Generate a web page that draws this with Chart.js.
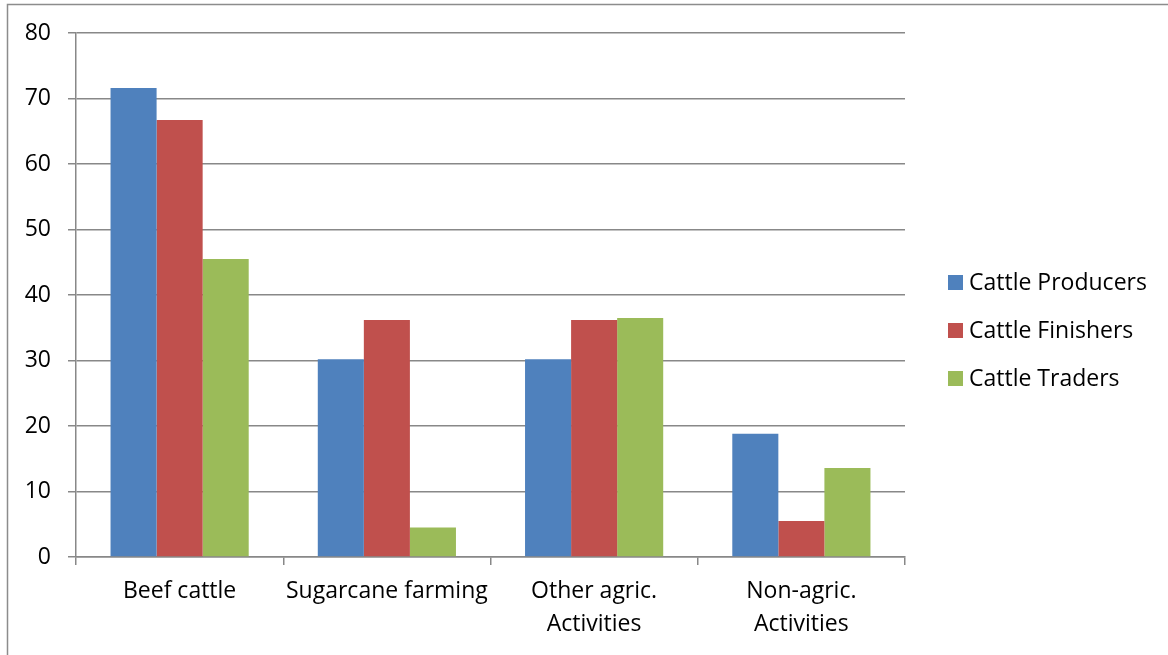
<!DOCTYPE html>
<html>
<head>
<meta charset="utf-8">
<title>Cattle sector activities</title>
<script src="https://cdn.jsdelivr.net/npm/chart.js@4.4.1/dist/chart.umd.min.js"></script>
<style>
  html, body { margin: 0; padding: 0; background: #fff; }
  #wrap { position: relative; width: 1168px; height: 655px; }
</style>
</head>
<body>
<div id="wrap"><canvas id="chart" width="1168" height="655"></canvas></div>
<script>
// Activity categories (x axis)
const categories = [
  'Beef cattle',
  'Sugarcane farming',
  ['Other agric.', 'Activities'],
  ['Non-agric.', 'Activities']
];

// Share of each group engaged in the activity
const producers = [71.6, 30.2, 30.2, 18.8];
const finishers = [66.7, 36.2, 36.2, 5.5];
const traders   = [45.5, 4.5, 36.5, 13.6];

const seriesNames = ['Cattle Producers', 'Cattle Finishers', 'Cattle Traders'];
const seriesColors = ['#4F81BD', '#C0504D', '#9BBB59'];

// Y axis range and step
const yMin = 0, yMax = 80, yStep = 10;

const FONT = '"Open Sans", "Liberation Sans", sans-serif';
const GRID = '#888888';

// Outer frame lines and a right-hand legend
const framePlugin = {
  id: 'frame',
  beforeDraw(chart) {
    const ctx = chart.ctx;
    ctx.save();
    ctx.strokeStyle = '#8c8c8c';
    ctx.lineWidth = 1.5;
    ctx.beginPath();
    ctx.moveTo(7.5, 655);
    ctx.lineTo(7.5, 4.5);
    ctx.lineTo(1168, 4.5);
    ctx.stroke();
    ctx.restore();
  },
  afterDraw(chart) {
    const ctx = chart.ctx;
    const ys = [282, 330, 378];
    ctx.save();
    ctx.font = '23px ' + FONT;
    ctx.textBaseline = 'middle';
    ctx.textAlign = 'left';
    chart.data.datasets.forEach((ds, i) => {
      ctx.fillStyle = ds.backgroundColor;
      ctx.fillRect(948, ys[i] - 7, 15, 15);
      ctx.fillStyle = '#000';
      ctx.fillText(ds.label, 969, ys[i] + 1);
    });
    ctx.restore();
  }
};

new Chart(document.getElementById('chart'), {
  type: 'bar',
  data: {
    labels: categories,
    datasets: [producers, finishers, traders].map((vals, i) => ({
      label: seriesNames[i],
      data: vals,
      backgroundColor: seriesColors[i],
      borderWidth: 0,
      barPercentage: 1.0,
      categoryPercentage: 3 / 4.5
    }))
  },
  options: {
    responsive: false,
    animation: false,
    layout: { padding: { left: 0, top: 33, right: 263, bottom: 0 } },
    plugins: {
      legend: { display: false },
      tooltip: { enabled: false }
    },
    scales: {
      x: {
        grid: {
          offset: true,
          drawOnChartArea: false,
          drawTicks: true,
          tickLength: 8,
          color: GRID,
          lineWidth: 1.5
        },
        border: { color: GRID, width: 1.5 },
        ticks: {
          color: '#000',
          font: { family: FONT, size: 23, lineHeight: 1.43 },
          padding: 10,
          maxRotation: 0,
          autoSkip: false
        },
        afterFit(scale) { scale.height = 98; }
      },
      y: {
        min: yMin,
        max: yMax,
        grid: {
          color: GRID,
          lineWidth: 1.5,
          tickLength: 8
        },
        border: { color: GRID, width: 1.5 },
        ticks: {
          stepSize: yStep,
          color: '#000',
          font: { family: FONT, size: 23 },
          padding: 17
        },
        afterFit(scale) { scale.width = 76; }
      }
    }
  },
  plugins: [framePlugin]
});
</script>
</body>
</html>
